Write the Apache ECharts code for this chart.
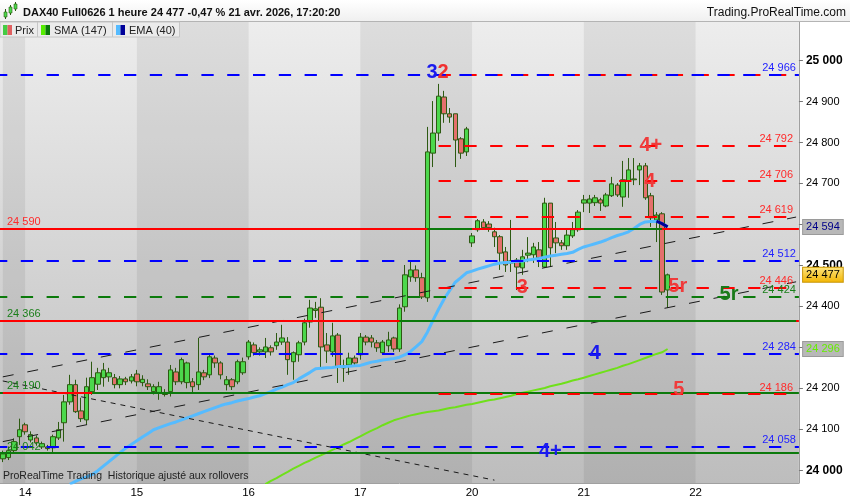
<!DOCTYPE html>
<html><head><meta charset="utf-8">
<script src="https://cdn.jsdelivr.net/npm/echarts@6/dist/echarts.min.js"></script>
<style>html,body{margin:0;padding:0;background:#fff}#c{width:850px;height:500px}</style>
</head><body><div id="c"></div>
<script>
// ---------- data ----------
const days = ['13','14','15','16','17','20','21','22'];
const hours = ['02:00','03:00','04:00','05:00','06:00','07:00','08:00','09:00','10:00','11:00',
               '12:00','13:00','14:00','15:00','16:00','17:00','18:00','19:00','20:00','21:00'];
// [open, close, low, high]
const ohlc = [
[24028,24040,24020,24048],[24031,24048,24025,24058],[24048,24070,24042,24078],[24082,24099,24062,24126],
[24111,24094,24087,24116],[24074,24087,24068,24095],[24079,24067,24060,24085],[24057,24065,24052,24070],
[24057,24053,24048,24062],[24055,24082,24043,24087],[24079,24099,24074,24118],[24116,24167,24070,24184],
[24167,24209,24160,24233],[24209,24143,24140,24221],[24145,24126,24118,24177],[24123,24204,24111,24226],
[24192,24226,24184,24265],[24210,24238,24196,24250],[24226,24245,24204,24262],[24228,24238,24216,24250],
[24226,24209,24200,24235],[24209,24223,24200,24230],[24223,24216,24208,24228],[24218,24228,24212,24235],
[24235,24216,24205,24245],[24214,24222,24205,24232],[24211,24204,24196,24222],[24192,24204,24185,24210],
[24190,24204,24172,24216],[24190,24185,24180,24198],[24192,24245,24180,24257],[24240,24216,24208,24250],
[24216,24270,24210,24275],[24214,24262,24200,24265],[24216,24204,24190,24225],[24209,24240,24196,24323],
[24238,24228,24220,24245],[24233,24277,24225,24285],[24274,24262,24250,24280],[24262,24233,24222,24266],
[24209,24221,24195,24230],[24221,24204,24196,24225],[24216,24265,24210,24270],[24238,24265,24233,24275],
[24277,24313,24270,24318],[24306,24287,24280,24312],[24289,24294,24280,24300],[24289,24301,24274,24323],
[24299,24289,24280,24305],[24304,24313,24294,24335],[24313,24323,24306,24355],[24313,24270,24233,24325],
[24265,24287,24221,24290],[24282,24311,24265,24316],[24313,24360,24305,24370],[24362,24396,24348,24416],
[24390,24394,24372,24411],[24398,24301,24252,24420],[24306,24291,24262,24335],[24289,24328,24277,24360],
[24330,24252,24213,24335],[24250,24255,24216,24270],[24257,24274,24233,24287],[24274,24262,24255,24280],
[24282,24325,24270,24335],[24325,24313,24305,24330],[24323,24313,24300,24330],[24311,24299,24289,24318],
[24287,24313,24282,24318],[24304,24318,24289,24338],[24323,24296,24289,24326],[24296,24396,24289,24405],
[24399,24477,24387,24501],[24472,24489,24460,24510],[24489,24470,24460,24500],[24470,24423,24418,24482],
[24421,24777,24411,24838],[24774,24823,24740,24901],[24823,24913,24804,24943],[24911,24870,24848,24926],
[24870,24862,24848,24884],[24870,24806,24740,24870],[24809,24774,24760,24813],[24777,24833,24767,24838],
[24555,24572,24545,24579],[24587,24609,24582,24613],[24606,24592,24587,24613],[24601,24592,24582,24608],
[24582,24570,24545,24592],[24570,24530,24489,24574],[24533,24501,24484,24545],[24506,24511,24484,24611],
[24513,24496,24440,24518],[24494,24521,24477,24538],[24525,24530,24508,24569],[24526,24545,24506,24555],
[24538,24518,24496,24557],[24496,24652,24494,24665],[24652,24543,24496,24652],[24567,24555,24530,24606],
[24555,24548,24538,24562],[24548,24574,24538,24589],[24572,24587,24567,24606],[24587,24630,24582,24635],
[24652,24660,24630,24672],[24652,24662,24628,24672],[24653,24665,24645,24672],[24660,24652,24633,24665],
[24645,24672,24642,24677],[24670,24699,24667,24716],[24696,24672,24667,24701],[24667,24709,24643,24755],
[24706,24733,24665,24762],[24709,24711,24696,24762],[24733,24743,24696,24750],[24743,24665,24660,24750],
[24670,24616,24594,24677],[24611,24623,24557,24630],[24626,24435,24428,24630],[24440,24477,24396,24480]
];
const ema40 = [
'-','-','-','-','-','-','-','-','-','-','-','-',
23966,23973,23979,23984,23990,23999,24010,24021,24032,24043,24054,24063,24072,24081,24090,24099,
24104,24109,24114,24118,24123,24128,24133,24138,24143,24148,24153,24158,24162,24165,24169,24172,
24175,24179,24182,24187,24192,24198,24203,24209,24214,24223,24231,24239,24248,24249,24250,24251,
24253,24253,24254,24255,24256,24260,24264,24266,24269,24271,24273,24276,24282,24290,24302,24314,
24337,24366,24393,24418,24439,24459,24470,24482,24486,24491,24495,24499,24503,24506,24507,24508,
24510,24511,24513,24515,24517,24520,24523,24525,24527,24529,24532,24539,24545,24549,24553,24557,
24562,24568,24573,24577,24582,24590,24600,24606,24607,24608,24602,24594
];
const ema40Falling = [117,118,119]; // candle indexes where EMA is drawn dark
const sma147 = [
'-','-','-','-','-','-','-','-','-','-','-','-','-','-','-','-','-','-','-','-',
'-','-','-','-','-','-','-','-','-','-','-','-','-','-','-','-','-','-','-','-',
'-','-','-','-','-','-','-',
23966,23974,23981,23989,23996,24004,24011,24018,24024,24031,24037,24043,24050,24056,24063,24069,
24076,24083,24090,24097,24103,24110,24116,24122,24126,24130,24134,24137,24140,24142,24144,24146,
24149,24152,24154,24157,24160,24162,24165,24168,24171,24173,24176,24179,24182,24186,24189,24192,
24195,24198,24201,24205,24208,24211,24215,24219,24222,24226,24230,24234,24238,24242,24246,24250,
24255,24259,24264,24269,24274,24279,24284,24288,24296
];
const blueDashed = [24966, 24512, 24284, 24058];
const redDashed = [24966, 24792, 24706, 24619, 24446, 24186];
const redDashedStart = 78;
const greenDashed = [24424];
const redSolid = [24590, 24366];
const greenSolid = [24190, 24042];
const channelUpper = [[0, 24228], [142, 24618]];
const channelLower = [[0, 24070], [142, 24460]];
const channelDown = [[0, 24218], [88, 23976]];
const darkDays = [[0, 4], [24, 44], [64, 84], [104, 124]];
const notes = [
  {t:'3', at:[77, 24970], c:'#1a1aee', dx:-1},
  {t:'2', at:[79, 24970], c:'#f03030', dx:-1},
  {t:'4+', at:[116, 24792], c:'#ef3b3b', dx:0},
  {t:'4', at:[116, 24706], c:'#ef3b3b', dx:-1},
  {t:'5r', at:[121, 24448], c:'#ef3b3b', dx:-1},
  {t:'5r', at:[130, 24430], c:'#1a7a1a', dx:0},
  {t:'3', at:[93, 24446], c:'#ef3b3b', dx:0},
  {t:'4', at:[106, 24284], c:'#1a1aee', dx:0},
  {t:'5', at:[121, 24196], c:'#ef3b3b', dx:0},
  {t:'4+', at:[98, 24045], c:'#1a1aee', dx:0}
];

// ---------- build ----------
const FONT = 'Liberation Sans, Arial, sans-serif';
const categories = [];
days.forEach((d, di) => hours.forEach((h, hi) => {
  if (di === 0 && hi < 16) return;
  if (di === days.length - 1 && hi > 18) return;
  categories.push(d + ' ' + h);
}));
const fmt = v => String(v).replace(/\B(?=(\d{3})+(?!\d))/g, ' ');
const BLUE = '#0000ff', RED = '#ff0000', GREEN = '#0b7a0b';
const LB = '#2222ff', LR = '#ff2a2a', LG = '#1a7f1a';
const DASH = [12.3, 13.5];

function rightLabel(v, color) {
  return {show: true, position: 'insideEndTop', formatter: fmt(v), color: color,
          fontSize: 11, fontFamily: FONT, distance: [3, 1]};
}
function leftLabel(v, color) {
  return {show: true, position: 'insideStartTop', formatter: fmt(v), color: color,
          fontSize: 11, fontFamily: FONT, distance: [7, 1]};
}
const noLabel = {show: false};
const ml = [];
[[channelUpper, [11, 14]], [channelLower, [11, 14]], [channelDown, [5, 5]]].forEach(([c, d]) => {
  ml.push([{coord: c[0], lineStyle: {color: '#1a1a1a', width: 1, type: d}, label: noLabel}, {coord: c[1]}]);
});
redSolid.forEach((v, i) => ml.push({yAxis: v, lineStyle: {color: RED, width: 2, type: 'solid'},
  label: leftLabel(v, i === 0 ? LR : LG)}));
greenSolid.forEach(v => ml.push({yAxis: v, lineStyle: {color: GREEN, width: 2, type: 'solid'},
  label: leftLabel(v, LG)}));
ml.push([{coord: [71, redSolid[1]], lineStyle: {color: GREEN, width: 2, type: 'solid'}, label: noLabel}, {coord: [142, redSolid[1]]}]);
ml.push([{coord: [0, greenSolid[0]], lineStyle: {color: RED, width: 2, type: 'solid'}, label: noLabel}, {coord: [16, greenSolid[0]]}]);
ml.push([{coord: [76, redSolid[0]], lineStyle: {color: GREEN, width: 2, type: 'solid'}, label: noLabel}, {coord: [84, redSolid[0]]}]);
ml.push([{coord: [104, redSolid[0]], lineStyle: {color: GREEN, width: 2, type: 'solid'}, label: noLabel}, {coord: [118, redSolid[0]]}]);
redDashed.forEach((v, i) => ml.push([{coord: [redDashedStart, v],
  lineStyle: {color: RED, width: 2, type: DASH, dashOffset: 0},
  label: i === 0 ? noLabel : rightLabel(v, LR)}, {coord: [142, v]}]));
greenDashed.forEach(v => ml.push({yAxis: v, lineStyle: {color: GREEN, width: 2, type: DASH, dashOffset: 5},
  label: rightLabel(v, LG)}));
blueDashed.forEach(v => ml.push({yAxis: v, lineStyle: {color: BLUE, width: 2, type: DASH, dashOffset: 5},
  label: rightLabel(v, LB)}));
const lastIdx = ohlc.length - 1;
const tags = [
  {v: ema40[lastIdx], color: '#000088', bg: '#b8b8b8', bc: '#9a9a9a'},
  {v: ohlc[lastIdx][1], color: '#000', bg: {type: 'linear', x: 0, y: 0, x2: 0, y2: 1,
     colorStops: [{offset: 0, color: '#ffe680'}, {offset: 1, color: '#f2b400'}]}, bc: '#c89400'},
  {v: sma147[lastIdx], color: '#66ee00', bg: '#b8b8b8', bc: '#9a9a9a'}
];
tags.forEach(t => ml.push([{coord: [141, t.v], lineStyle: {color: 'rgba(0,0,0,0)', width: 1, type: 'solid'},
  label: {show: true, position: 'end', distance: 7, formatter: fmt(t.v), color: t.color,
    backgroundColor: t.bg, borderColor: t.bc, borderWidth: 1, padding: [2, 3, 1, 3],
    fontSize: 11, fontFamily: FONT}}, {coord: [142, t.v]}]));

const mp = notes.map(n => ({coord: n.at, value: n.t, symbolSize: 0,
  label: {show: true, position: 'inside', formatter: n.t, color: n.c, fontSize: 20,
    fontWeight: 'bold', fontFamily: FONT, offset: [n.dx, 0]}}));

const emaTail = ema40.map((v, i) => ema40Falling.indexOf(i) >= 0 ? v : '-');

const chart = echarts.init(document.getElementById('c'), null, {renderer: 'canvas'});
chart.setOption({
  animation: false,
  backgroundColor: '#fff',
  grid: {left: -4.3, right: 51.1, top: 22, bottom: 17, show: true, borderWidth: 0,
    backgroundColor: {type: 'linear', x: 0, y: 0, x2: 0, y2: 1,
      colorStops: [{offset: 0, color: '#ededed'}, {offset: 1, color: '#bdbdbd'}]}},
  xAxis: {
    type: 'category', data: categories, boundaryGap: true,
    axisLine: {lineStyle: {color: '#a0a0a0'}},
    axisTick: {alignWithLabel: true, length: 4, lineStyle: {color: '#888'},
      interval: (i, v) => v.slice(3) === hours[0]},
    axisLabel: {interval: (i, v) => v.slice(3) === hours[0], formatter: v => v.split(' ')[0],
      color: '#000', fontSize: 11.5, fontFamily: FONT, margin: 4},
    splitLine: {show: false}
  },
  yAxis: {
    type: 'value', position: 'right', min: 23969, max: 25094, splitNumber: 11,
    axisLine: {show: true, lineStyle: {color: '#a0a0a0'}},
    axisTick: {show: true, length: 4, lineStyle: {color: '#777'}},
    axisLabel: {showMinLabel: false, showMaxLabel: false, margin: 7, color: '#000', fontSize: 11,
      fontFamily: FONT,
      formatter: v => (v % 500 === 0 ? '{b|' + fmt(v) + '}' : fmt(v)),
      rich: {b: {fontWeight: 'bold', fontSize: 12, fontFamily: FONT, color: '#000'}}},
    splitLine: {show: false}
  },
  series: [
    {
      name: 'Prix', type: 'candlestick', data: ohlc, barWidth: 5,
      itemStyle: {color: '#4cd84c', color0: '#e4706c', borderColor: '#2d5a12', borderColor0: '#2d5a12', borderWidth: 1},
      markArea: {silent: true, itemStyle: {color: 'rgba(0,0,0,0.065)'},
        data: darkDays.map(d => [{xAxis: d[0]}, {xAxis: d[1]}])},
      markLine: {silent: true, symbol: ['none', 'none'], data: ml},
      markPoint: {silent: true, symbol: 'circle', data: mp}
    },
    {name: 'SMA (147)', type: 'line', data: sma147, showSymbol: false,
      lineStyle: {color: '#6fe01a', width: 2}, z: 3},
    {name: 'EMA (40)', type: 'line', data: ema40, showSymbol: false,
      lineStyle: {color: '#55bbff', width: 3}, z: 3},
    {name: 'EMA (40) baisse', type: 'line', data: emaTail, showSymbol: false,
      lineStyle: {color: '#000099', width: 3}, z: 4}
  ],
  graphic: [
    {type: 'rect', z: 100, shape: {x: 0, y: 0, width: 850, height: 21},
      style: {fill: {type: 'linear', x: 0, y: 0, x2: 0, y2: 1, colorStops: [{offset: 0, color: '#ffffff'}, {offset: 1, color: '#f0f0f0'}]}}},
    {type: 'line', z: 100, shape: {x1: 0, y1: 21.5, x2: 850, y2: 21.5}, style: {stroke: '#b4b4b4', lineWidth: 1}},
    {type: 'line', z: 101, shape: {x1: 5.5, y1: 9, x2: 5.5, y2: 19}, style: {stroke: '#2d5a12', lineWidth: 1}},
    {type: 'rect', z: 102, shape: {x: 4, y: 12, width: 3, height: 5}, style: {fill: '#4cd84c', stroke: '#2d5a12', lineWidth: 0.6}},
    {type: 'line', z: 101, shape: {x1: 10.5, y1: 5, x2: 10.5, y2: 15}, style: {stroke: '#2d5a12', lineWidth: 1}},
    {type: 'rect', z: 102, shape: {x: 9, y: 7, width: 3, height: 6}, style: {fill: '#4cd84c', stroke: '#2d5a12', lineWidth: 0.6}},
    {type: 'line', z: 101, shape: {x1: 15.5, y1: 2, x2: 15.5, y2: 11}, style: {stroke: '#2d5a12', lineWidth: 1}},
    {type: 'rect', z: 102, shape: {x: 14, y: 4, width: 3, height: 5}, style: {fill: '#4cd84c', stroke: '#2d5a12', lineWidth: 0.6}},
    {type: 'text', z: 101, x: 23, y: 12.5, style: {text: 'DAX40 Full0626 1 heure 24 477 -0,47 % 21 avr. 2026, 17:20:20',
      font: 'bold 11px ' + FONT, fill: '#111', verticalAlign: 'middle', align: 'left'}},
    {type: 'text', z: 101, x: 846, y: 12.5, style: {text: 'Trading.ProRealTime.com',
      font: '12px ' + FONT, fill: '#111', verticalAlign: 'middle', align: 'right'}},
    {type: 'rect', z: 100, shape: {x: 0, y: 22, width: 37.5, height: 15}, style: {fill: '#ebebeb', stroke: '#c6c6c6', lineWidth: 1}},
    {type: 'rect', z: 100, shape: {x: 37.5, y: 22, width: 75, height: 15}, style: {fill: '#ebebeb', stroke: '#c6c6c6', lineWidth: 1}},
    {type: 'rect', z: 100, shape: {x: 112.5, y: 22, width: 67, height: 15}, style: {fill: '#ebebeb', stroke: '#c6c6c6', lineWidth: 1}},
    {type: 'rect', z: 101, shape: {x: 3, y: 25, width: 4.5, height: 10}, style: {fill: '#44cc44'}},
    {type: 'rect', z: 101, shape: {x: 7.5, y: 25, width: 4.5, height: 10}, style: {fill: '#e06060'}},
    {type: 'rect', z: 101, shape: {x: 41, y: 25, width: 4.5, height: 10}, style: {fill: '#55ee00'}},
    {type: 'rect', z: 101, shape: {x: 45.5, y: 25, width: 4.5, height: 10}, style: {fill: '#0a7a0a'}},
    {type: 'rect', z: 101, shape: {x: 116, y: 25, width: 4.5, height: 10}, style: {fill: '#55bbff'}},
    {type: 'rect', z: 101, shape: {x: 120.5, y: 25, width: 4.5, height: 10}, style: {fill: '#000099'}},
    {type: 'text', z: 101, x: 15, y: 30.5, style: {text: 'Prix', font: '11px ' + FONT, fill: '#222', verticalAlign: 'middle'}},
    {type: 'text', z: 101, x: 54, y: 30.5, style: {text: 'SMA (147)', font: '11px ' + FONT, fill: '#222', verticalAlign: 'middle'}},
    {type: 'text', z: 101, x: 129, y: 30.5, style: {text: 'EMA (40)', font: '11px ' + FONT, fill: '#222', verticalAlign: 'middle'}},
    {type: 'text', z: 101, x: 3, y: 476.5, style: {text: 'ProRealTime Trading  Historique ajusté aux rollovers',
      font: '10.5px ' + FONT, fill: '#222', verticalAlign: 'middle'}}
  ]
});
</script></body></html>
